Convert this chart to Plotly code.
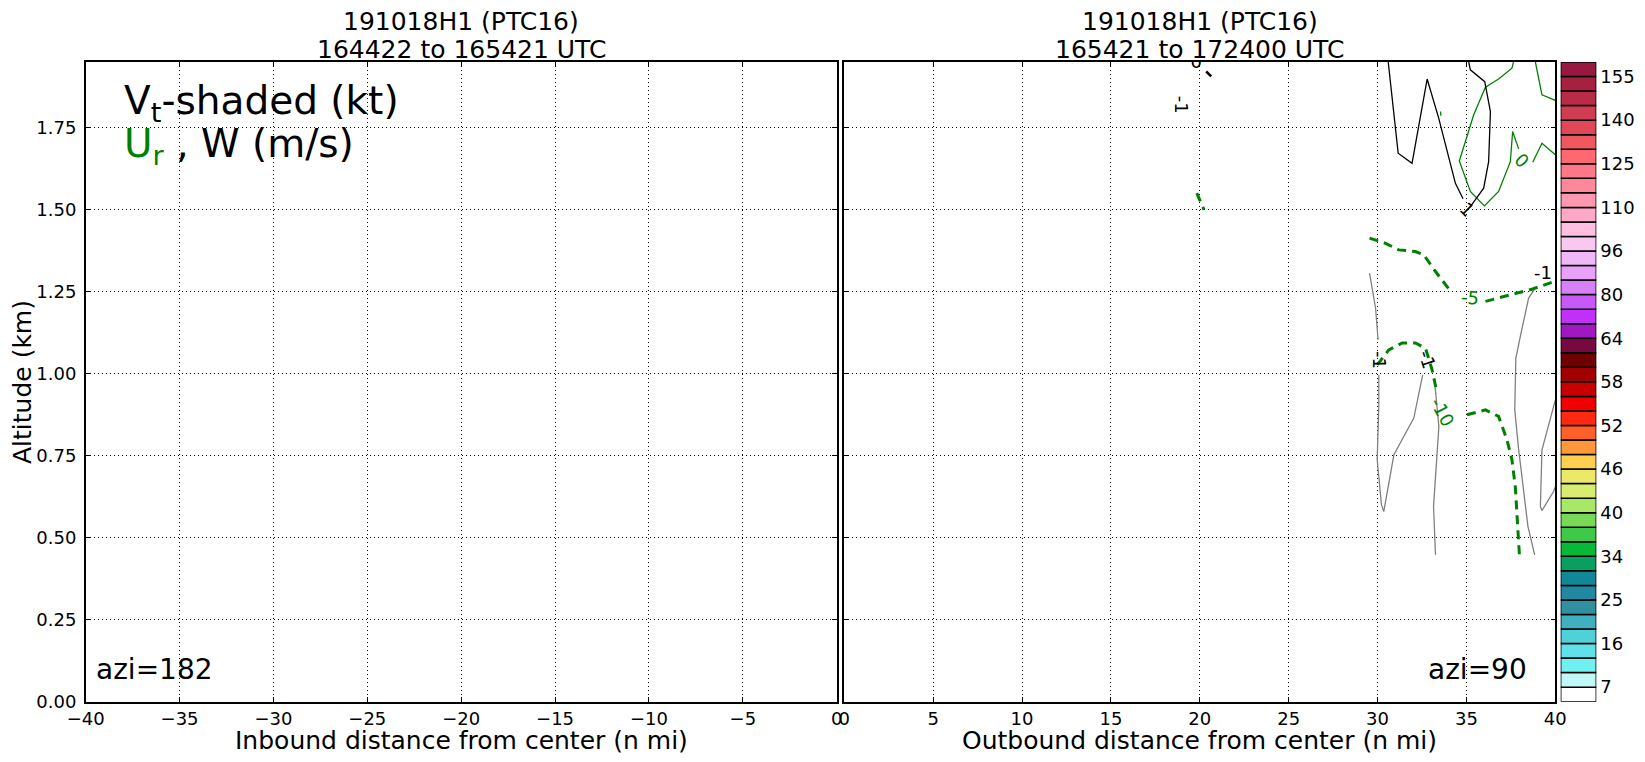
import plotly.graph_objects as go

# The page body has an 8 px margin, so the figure is drawn 8 px smaller and all
# reference pixel positions are shifted by that amount.
OFF = 8
W, H = 1645 - OFF, 762 - OFF
FONT = "DejaVu Sans"

# ---------------- data ----------------
inbound_ticks = [-40, -35, -30, -25, -20, -15, -10, -5, 0]
outbound_ticks = [0, 5, 10, 15, 20, 25, 30, 35, 40]
alt_ticks = [0.0, 0.25, 0.5, 0.75, 1.0, 1.25, 1.5, 1.75]
alt_max = 1.951

titles_left = ["191018H1 (PTC16)", "164422 to 165421 UTC"]
titles_right = ["191018H1 (PTC16)", "165421 to 172400 UTC"]

# colorbar (Vt, kt): 44 boxes from bottom to top, labels at every 3rd boundary
cbar_colors = [
    "#ffffff", "#c0f8f8", "#70f0f0", "#60e0e8", "#50d0d8", "#40b0c0", "#3090a0",
    "#2088a0", "#108898", "#08a060", "#08b838", "#40c848", "#78d858", "#a8e868",
    "#d8ec70", "#ece868", "#ffd050", "#ff9838", "#ff6028", "#ff2810", "#f00000",
    "#c80000", "#a00000", "#700000", "#780840", "#a018c0", "#c030f8", "#c858f8",
    "#d880f8", "#e8a0f8", "#f0b8f8", "#f8c8f0", "#ffc0e0", "#ffa8c8", "#ff98b0",
    "#ff8898", "#ff7888", "#ff6870", "#f05860", "#e04858", "#d03c50", "#b82c48",
    "#a82040", "#9a1840",
]
cbar_tick_pos = [1, 4, 7, 10, 13, 16, 19, 22, 25, 28, 31, 34, 37, 40, 43]
cbar_labels = ["7", "16", "25", "34", "40", "46", "52", "58", "64", "80", "96",
               "110", "125", "140", "155"]

# W = +1 m/s (black solid)
w_pos_a_x = [30.60, 31.16, 31.94, 32.79, 33.44, 34.38, 34.81]
w_pos_a_y = [1.951, 1.673, 1.642, 1.899, 1.780, 1.581, 1.534]
w_pos_b_x = [35.22, 35.97, 36.25, 36.35, 36.03, 35.22, 35.13]
w_pos_b_y = [1.510, 1.566, 1.647, 1.800, 1.891, 1.927, 1.951]
w_pos_c_x = [20.36, 20.64]
w_pos_c_y = [1.922, 1.907]

# W = -1 m/s (grey solid)
w_neg_a_x = [29.55, 29.89, 30.03]
w_neg_a_y = [1.307, 1.200, 1.104]
w_neg_b_x = [30.07, 30.07, 29.98, 30.22, 30.35, 30.92, 32.04, 32.54]
w_neg_b_y = [0.997, 0.900, 0.738, 0.601, 0.580, 0.753, 0.865, 0.997]
w_neg_c_x = [33.20, 33.45, 33.15, 33.26]
w_neg_c_y = [0.982, 0.839, 0.595, 0.448]
w_neg_d_x = [38.83, 38.50, 38.11, 37.78, 37.72, 37.94, 38.46, 38.84]
w_neg_d_y = [1.258, 1.231, 1.134, 1.048, 0.890, 0.768, 0.535, 0.448]
w_neg_e_x = [40.0, 39.90, 39.25, 39.16, 39.25, 39.90, 40.0]
w_neg_e_y = [0.920, 0.900, 0.768, 0.595, 0.583, 0.641, 0.655]

# Ur = 0 m/s (green solid)
ur0_a_x = [37.65, 37.56, 36.81, 36.07, 35.41, 34.60, 35.22, 36.01, 36.81, 37.47, 37.60, 37.94]
ur0_a_y = [1.951, 1.932, 1.899, 1.874, 1.790, 1.649, 1.556, 1.512, 1.556, 1.647, 1.739, 1.686]
ur0_b_x = [38.73, 39.25, 40.0]
ur0_b_y = [1.645, 1.703, 1.668]
ur0_c_x = [38.88, 39.25, 40.0]
ur0_c_y = [1.951, 1.851, 1.834]
ur0_d_x = [33.54, 33.56]
ur0_d_y = [1.800, 1.787]

# Ur = -5 m/s (green dashed)
ur5_a_x = [29.55, 30.45, 31.19, 32.13, 32.60, 33.26, 34.19]
ur5_a_y = [1.414, 1.398, 1.378, 1.373, 1.363, 1.312, 1.246]
ur5_b_x = [36.07, 37.38, 38.69, 39.90, 40.0]
ur5_b_y = [1.221, 1.240, 1.258, 1.281, 1.285]
ur5_c_x = [19.83, 20.06, 20.24]
ur5_c_y = [1.551, 1.520, 1.500]

# Ur = -10 m/s (green dashed)
ur10_a_x = [29.98, 30.63, 31.38, 32.13, 32.70, 33.07, 33.35]
ur10_a_y = [1.027, 1.073, 1.094, 1.094, 1.078, 1.012, 0.941]
ur10_b_x = [35.03, 36.07, 36.81, 37.28, 37.56, 37.75, 37.84, 37.98]
ur10_b_y = [0.875, 0.890, 0.870, 0.799, 0.738, 0.656, 0.575, 0.448]

# contour labels: (text, x, y, angle, colour)
contour_labels = [
    ("1", 35.03, 1.500, 45, "black"),
    ("-1", 18.95, 1.820, 90, "black"),
    ("-1", 30.07, 1.043, 90, "black"),
    ("-1", 32.79, 1.043, 72, "black"),
    ("-1", 39.30, 1.310, 0, "black"),
    ("0", 38.12, 1.650, 45, "green"),
    ("-5", 35.22, 1.233, 5, "green"),
    ("-10", 33.63, 0.885, 62, "green"),
]
clipped_label = ("0", 19.80, 1.947)

# ---------------- figure ----------------
def px_x(v):
    return (v - OFF) / W


def px_y(v):
    return 1 - (v - OFF) / H


Y_DOM = [px_y(701.7), px_y(62.0)]
fig = go.Figure()

BLACK = "black"
GREEN = "#008000"
GREY = "#808080"

# empty left panel (inbound leg has no data)
fig.add_trace(go.Scatter(x=[None], y=[None], mode="lines", xaxis="x", yaxis="y",
                         showlegend=False, hoverinfo="skip"))


def add_line(xs, ys, color, width, dash="solid"):
    fig.add_trace(go.Scatter(
        x=xs, y=ys, mode="lines", xaxis="x2", yaxis="y2",
        line=dict(color=color, width=width, dash=dash),
        showlegend=False, hoverinfo="skip", cliponaxis=True))


for xs, ys in [(w_neg_a_x, w_neg_a_y), (w_neg_b_x, w_neg_b_y), (w_neg_c_x, w_neg_c_y),
               (w_neg_d_x, w_neg_d_y), (w_neg_e_x, w_neg_e_y)]:
    add_line(xs, ys, GREY, 1.3)
for xs, ys in [(ur0_a_x, ur0_a_y), (ur0_b_x, ur0_b_y), (ur0_c_x, ur0_c_y), (ur0_d_x, ur0_d_y)]:
    add_line(xs, ys, GREEN, 1.3)
for xs, ys in [(ur5_a_x, ur5_a_y), (ur5_b_x, ur5_b_y), (ur5_c_x, ur5_c_y),
               (ur10_a_x, ur10_a_y), (ur10_b_x, ur10_b_y)]:
    add_line(xs, ys, GREEN, 3, "9px,6px")
for xs, ys in [(w_pos_a_x, w_pos_a_y), (w_pos_b_x, w_pos_b_y)]:
    add_line(xs, ys, BLACK, 1.3)
add_line(w_pos_c_x, w_pos_c_y, BLACK, 2.5)

# clipped label at the top edge
fig.add_trace(go.Scatter(
    x=[clipped_label[1]], y=[clipped_label[2]], text=[clipped_label[0]],
    mode="text", xaxis="x2", yaxis="y2", cliponaxis=True,
    textfont=dict(family=FONT, size=18, color="black"),
    showlegend=False, hoverinfo="skip"))

# colorbar as stacked boxes
n_box = len(cbar_colors)
fig.add_trace(go.Bar(
    x=[0] * n_box, y=[1] * n_box, base=list(range(n_box)), width=1,
    xaxis="x3", yaxis="y3",
    marker=dict(color=cbar_colors, line=dict(color="black", width=1.5)),
    showlegend=False, hoverinfo="skip"))

tickfont = dict(family=FONT, size=18, color="black")
axis_common = dict(
    showline=True, linecolor="black", linewidth=1.5, mirror="allticks",
    ticks="inside", ticklen=5, tickcolor="black", tickwidth=1,
    showgrid=True, gridcolor="black", gridwidth=1, griddash="1px,3px",
    zeroline=False, tickfont=tickfont, automargin=False,
)

fig.update_layout(
    template="none",
    width=W, height=H,
    margin=dict(l=0, r=0, t=0, b=0, pad=0, autoexpand=False),
    paper_bgcolor="white", plot_bgcolor="white",
    font=dict(family=FONT, color="black"),
    showlegend=False,
    xaxis=dict(domain=[px_x(85.7), px_x(836.7)], range=[-40, 0], anchor="y",
               tickvals=inbound_ticks, ticklabelstandoff=0, **axis_common),
    yaxis=dict(domain=Y_DOM, range=[0, alt_max], anchor="x",
               tickvals=alt_ticks, tickformat=".2f", ticklabelstandoff=4, **axis_common),
    xaxis2=dict(domain=[px_x(844.3), px_x(1555.3)], range=[0, 40], anchor="y2",
                tickvals=outbound_ticks, ticklabelstandoff=0, **axis_common),
    yaxis2=dict(domain=Y_DOM, range=[0, alt_max], anchor="x2",
                tickvals=alt_ticks, showticklabels=False, **axis_common),
    xaxis3=dict(domain=[px_x(1560.7), px_x(1596.3)], range=[-0.5, 0.5],
                anchor="y3", visible=False, fixedrange=True, automargin=False),
    yaxis3=dict(domain=Y_DOM, range=[0, n_box], anchor="x3", side="right",
                tickvals=cbar_tick_pos, ticktext=cbar_labels,
                ticks="inside", ticklen=5, tickcolor="black",
                showgrid=False, zeroline=False, showline=False, automargin=False,
                tickfont=tickfont, ticklabelstandoff=3),
)

ann = []


def text_px(txt, x, y, size, xanchor="center", yanchor="middle", angle=0, color="black"):
    ann.append(dict(text=txt, x=px_x(x), y=px_y(y), xref="paper", yref="paper",
                    xanchor=xanchor, yanchor=yanchor, textangle=angle,
                    showarrow=False, font=dict(family=FONT, size=size, color=color)))


# panel titles
text_px(titles_left[0], 461.2, 21.4, 25)
text_px(titles_left[1], 461.2, 49.7, 25)
text_px(titles_right[0], 1199.8, 21.4, 25)
text_px(titles_right[1], 1199.8, 49.7, 25)

# axis titles
text_px("Inbound distance from center (n mi)", 461.2, 740, 25)
text_px("Outbound distance from center (n mi)", 1199.8, 740, 25)
text_px("Altitude (km)", 22, 382, 25, angle=-90)

# legend-like texts
text_px("V<sub>t</sub>-shaded (kt)", 122, 103, 39, xanchor="left")
text_px("<span style='color:#008000'>U<sub>r</sub></span> , W (m/s)", 122, 146, 39,
        xanchor="left")
text_px("azi=182", 94, 669.5, 28, xanchor="left")
text_px("azi=90", 1529, 669.5, 28, xanchor="right")

# contour labels (data coordinates)
for txt, x, y, ang, col in contour_labels:
    ann.append(dict(text=txt, x=x, y=y, xref="x2", yref="y2", showarrow=False,
                    textangle=ang, xanchor="center", yanchor="middle",
                    font=dict(family=FONT, size=18, color=GREEN if col == "green" else "black")))

fig.update_layout(annotations=ann)

fig.write_html("out.html")
